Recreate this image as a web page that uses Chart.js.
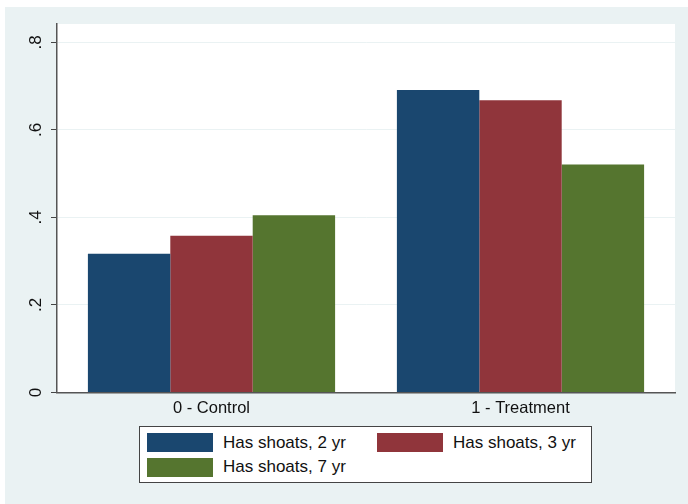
<!DOCTYPE html>
<html>
<head>
<meta charset="utf-8">
<script src="https://cdn.jsdelivr.net/npm/chart.js@4/dist/chart.umd.min.js"></script>
<style>
body{margin:0;background:#fff;font-family:"Liberation Sans",Arial,sans-serif;}
#wrap{position:relative;width:688px;height:504px;}
#legend{position:absolute;left:139px;top:426px;width:451px;height:55px;border:1px solid #444;background:#fff;}
#legend .sw{position:absolute;width:66px;height:19px;}
#legend .tx{position:absolute;font-size:17px;color:#111;line-height:20px;white-space:nowrap;}
</style>
</head>
<body>
<div id="wrap">
<canvas id="chart" width="688" height="504"></canvas>
<div id="legend"></div>
</div>
<script>
// values
let groups = ["0 - Control", "1 - Treatment"];
let seriesNames = ["Has shoats, 2 yr", "Has shoats, 3 yr", "Has shoats, 7 yr"];
let shoats2 = [0.317, 0.691];
let shoats3 = [0.358, 0.668];
let shoats7 = [0.405, 0.521];
let yTicks = [0, 0.2, 0.4, 0.6, 0.8];

let colors = ["#1A476F", "#90353B", "#55752F"];
let bg = "#EAF2F3";

const backdrop = {
id: "backdrop",
beforeDraw(chart){
let ctx = chart.ctx;
let a = chart.chartArea;
ctx.save();
ctx.fillStyle = bg;
ctx.fillRect(5, 7, chart.width - 5, chart.height - 7);
ctx.fillStyle = "#fff";
ctx.fillRect(a.left, a.top, a.right - a.left, a.bottom - a.top);
ctx.restore();
}
};

let chart = new Chart(document.getElementById("chart"), {
type: "bar",
data: {
labels: groups,
datasets: [
{ label: seriesNames[0], data: shoats2, backgroundColor: colors[0] },
{ label: seriesNames[1], data: shoats3, backgroundColor: colors[1] },
{ label: seriesNames[2], data: shoats7, backgroundColor: colors[2] }
]
},
options: {
responsive: false,
animation: false,
layout: { padding: { left: 5, top: 24, right: 13, bottom: 0 } },
datasets: { bar: { categoryPercentage: 0.8, barPercentage: 1, borderWidth: 0 } },
plugins: { legend: { display: false }, tooltip: { enabled: false } },
scales: {
x: {
grid: { display: false, drawTicks: false },
border: { display: true, color: "#555", width: 1.5 },
ticks: { color: "#111", font: { family: "Liberation Sans", size: 16.5 }, padding: 6 },
afterFit(s){ s.height = 111.5; }
},
y: {
min: 0,
max: 0.842,
grid: { color: bg, lineWidth: 1, tickLength: 6, tickColor: "#444" },
border: { display: true, color: "#555", width: 1.5 },
afterBuildTicks(s){ s.ticks = yTicks.map(v => ({ value: v })); },
ticks: {
includeBounds: false,
minRotation: 90,
maxRotation: 90,
crossAlign: "center",
padding: 8,
color: "#111",
font: { family: "Liberation Sans", size: 17 },
callback: v => v === 0 ? "0" : v.toFixed(1).replace(/^0/, "")
},
afterFit(s){ s.width = 52; }
}
}
},
plugins: [backdrop]
});

// legend box in the Stata layout: two columns, second row left aligned
let spots = [
{ sx: 7, sy: 6, tx: 83, ty: 6 },
{ sx: 237, sy: 6, tx: 313, ty: 6 },
{ sx: 7, sy: 31, tx: 83, ty: 30 }
];
let html = "";
chart.data.datasets.forEach((d, i) => {
let p = spots[i];
html += `<div class="sw" style="left:${p.sx}px;top:${p.sy}px;background:${d.backgroundColor}"></div>`;
html += `<div class="tx" style="left:${p.tx}px;top:${p.ty}px">${d.label}</div>`;
});
document.getElementById("legend").innerHTML = html;
</script>
</body>
</html>
